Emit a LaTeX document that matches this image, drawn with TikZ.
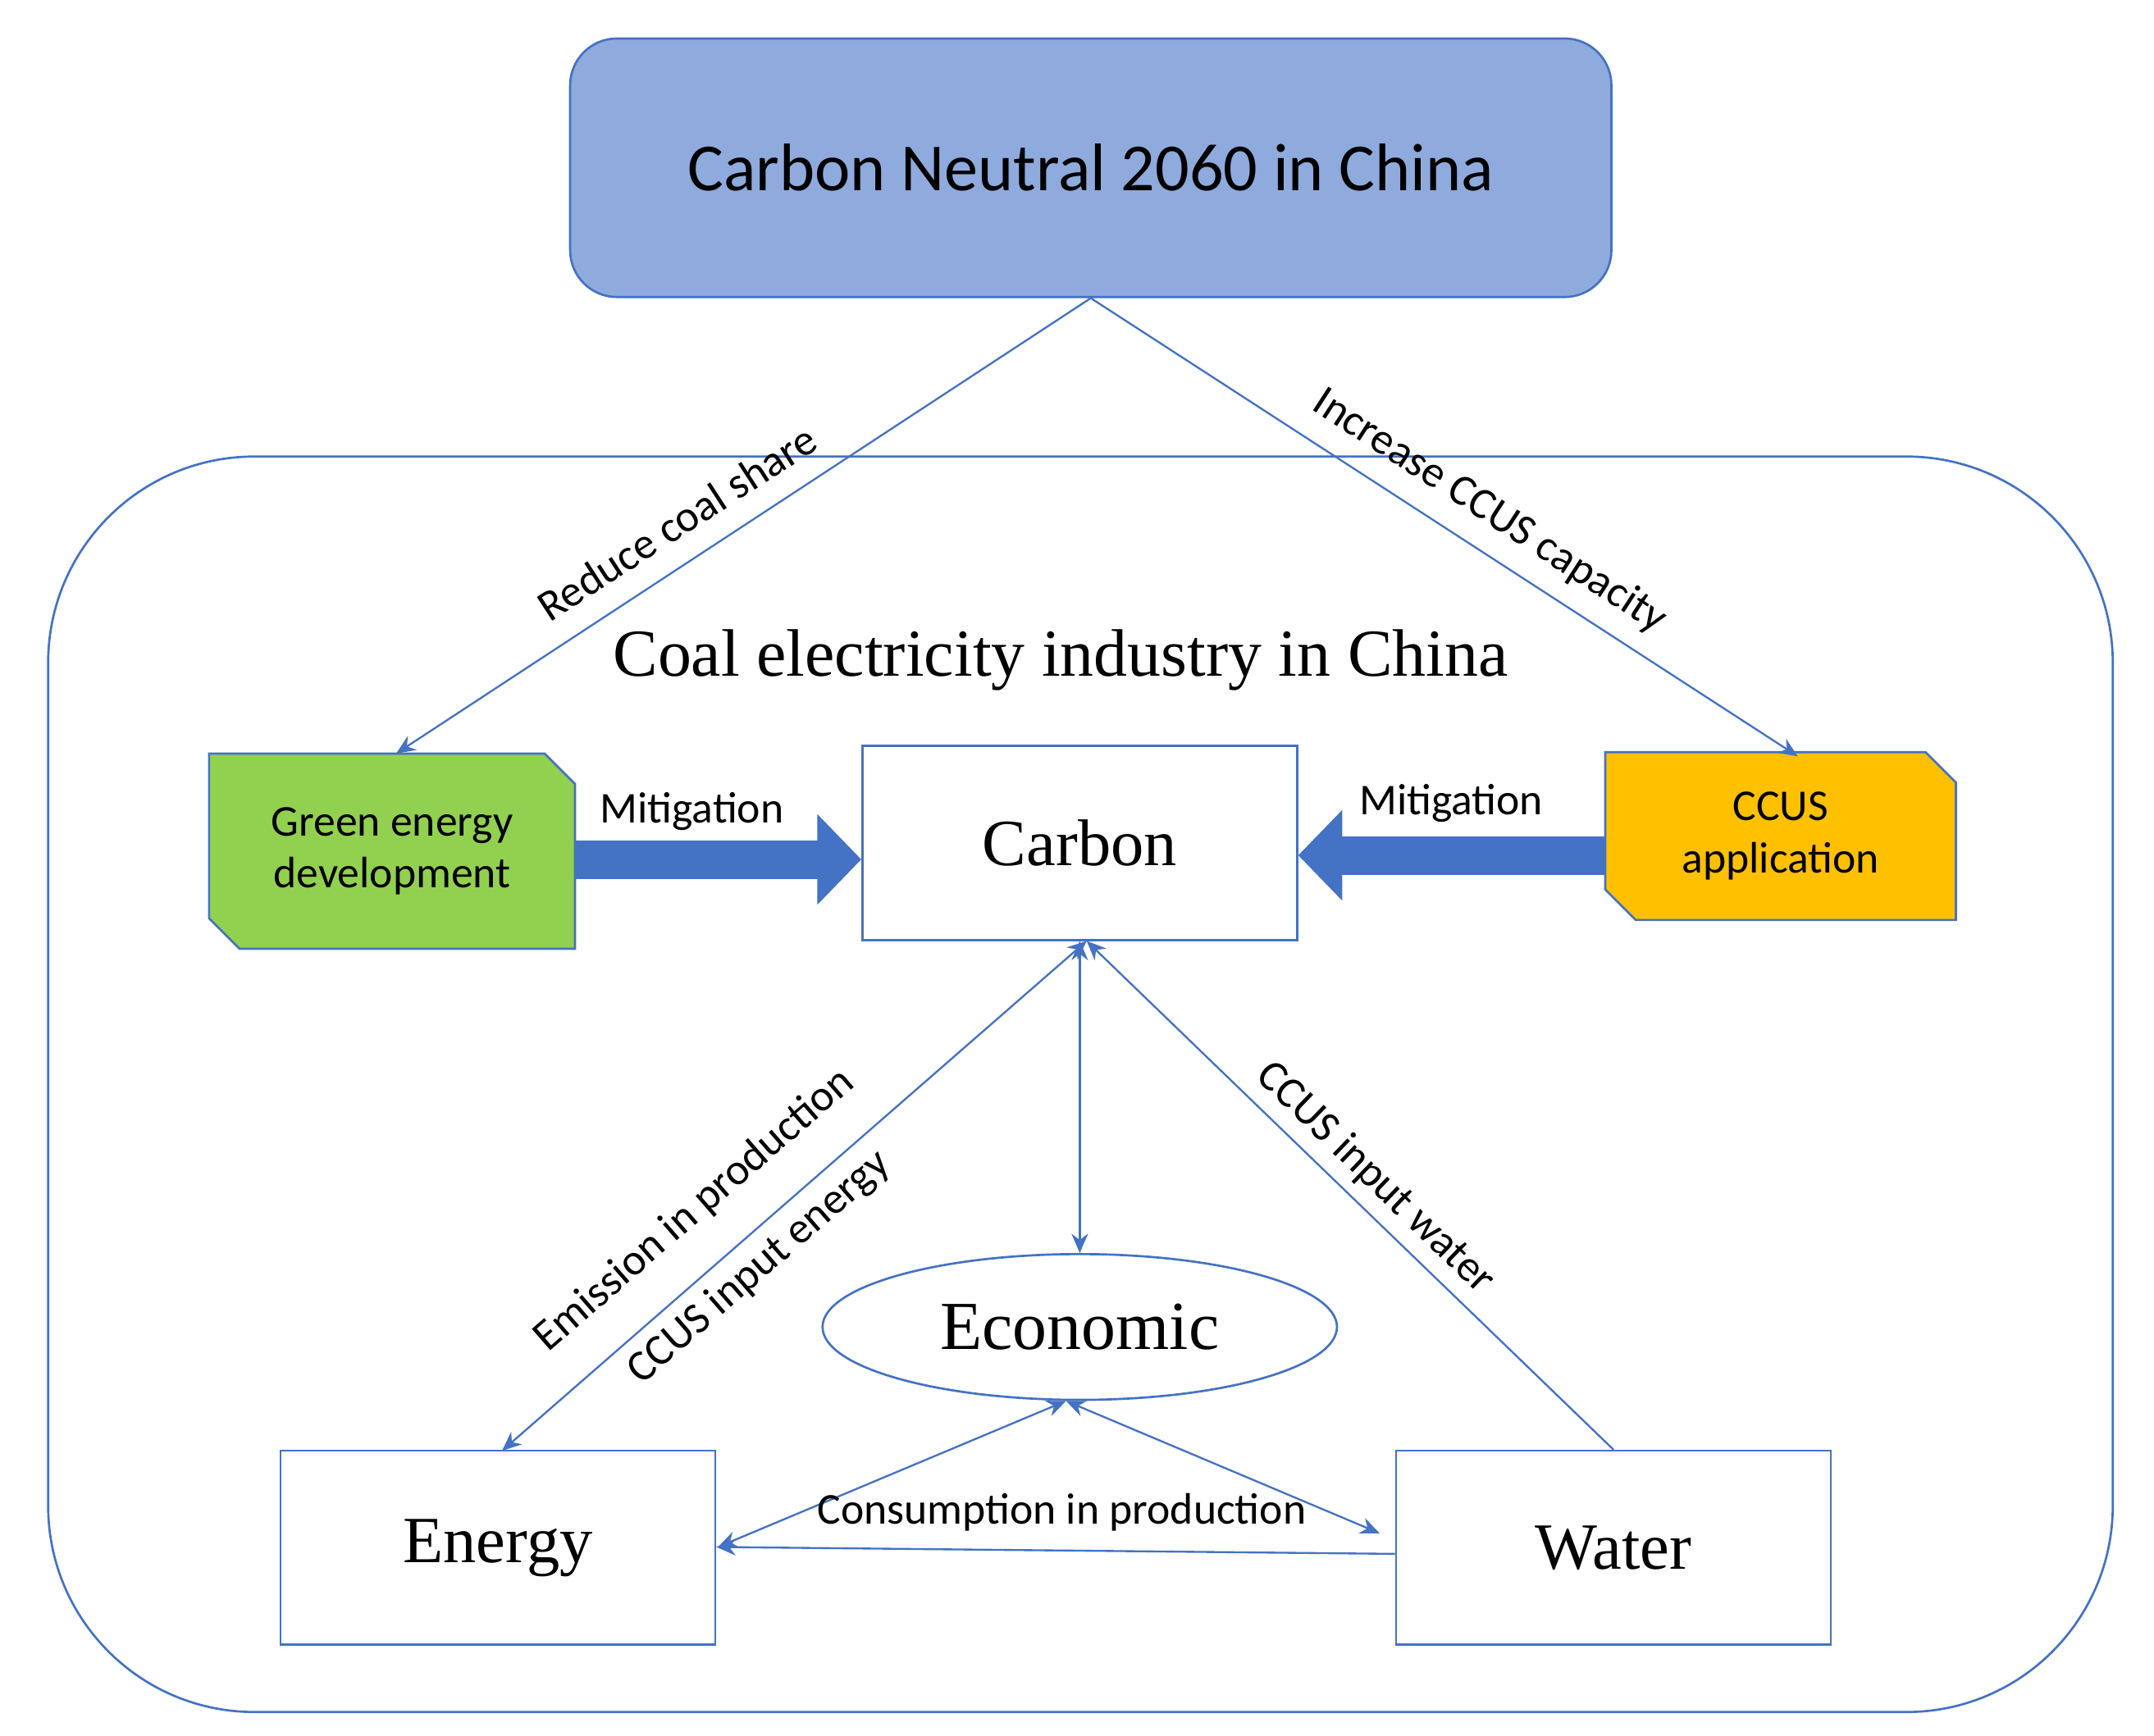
\documentclass[tikz,border=0pt]{standalone}
\usepackage{fontspec}
\setmainfont{Liberation Serif}
\newfontfamily\calfont{Carlito}
\usetikzlibrary{arrows.meta,shapes.misc,shapes.geometric}
\definecolor{bl}{HTML}{4472C4}
\definecolor{lbl}{HTML}{8FAADC}
\definecolor{grn}{HTML}{92D050}
\definecolor{org}{HTML}{FFC000}
\begin{document}
\begin{tikzpicture}[x=0.5pt,y=-0.5pt,
  box/.style={draw=bl,line width=0.8pt,fill=white,minimum width=158pt,minimum height=70.5pt,font=\fontsize{24}{28}\selectfont},
  cut/.style={chamfered rectangle,chamfered rectangle corners={north east,south west},chamfered rectangle xsep=8pt,draw=bl,line width=0.8pt,font=\calfont\fontsize{16}{19}\selectfont,align=center,inner sep=0pt},
  ln/.style={draw=bl,line width=0.7pt},
  tip/.style={-{Stealth[length=7pt,width=6pt]}},
  lab/.style={font=\calfont\fontsize{16}{19}\selectfont},
  fat/.style={draw=bl,line width=14pt,-{Triangle[width=32pt,length=16pt]}}]
\useasboundingbox (0,0) rectangle (1566,1262);
\draw[draw=bl,line width=0.8pt,rounded corners=75pt] (35,332) rectangle (1536,1245);
\node[draw=bl,line width=0.8pt,fill=lbl,rounded corners=17pt,minimum width=378.5pt,minimum height=94pt,font=\calfont\fontsize{24.5}{28}\selectfont] (top) at (793,122) {Carbon Neutral 2060 in China};
\node[font=\fontsize{24.4}{28}\selectfont] (coal) at (771,480) {Coal electricity industry in China};
\node[box] (carbon) at (785,613) {Carbon};
\node[cut,fill=grn,minimum width=133pt,minimum height=71pt] (green) at (285,619) {Green energy\\development};
\node[cut,fill=org,minimum width=127.5pt,minimum height=61pt] (ccus) at (1294.5,608) {CCUS\\application};
\node[ellipse,draw=bl,line width=0.8pt,minimum width=187pt,minimum height=53pt,inner sep=0pt,font=\fontsize{25}{28}\selectfont] (eco) at (785,965) {Economic};
\node[box] (energy) at (362,1125.5) {Energy};
\node[box] (water) at (1173,1125.5) {Water};
\draw[fat] (green.east|-0,625) -- (carbon.west|-0,625);
\draw[fat] (ccus.west|-0,622) -- (carbon.east|-0,622);
\node[lab] (m1) at (503,590) {Mitigation};
\node[lab] (m2) at (1055,584) {Mitigation};
\draw[ln,tip] (top.south) -- (288,548);
\draw[ln,tip] (top.south) -- (1307,550);
\node[lab,rotate=33] (l1) at (492,380) {Reduce coal share};
\node[lab,rotate=-33] (l2) at (1083,372) {Increase CCUS capacity};
\draw[ln,{Stealth[length=7pt,width=6pt]}-{Stealth[length=7pt,width=6pt]}] (carbon.south) -- (eco.north);
\draw[ln,{Stealth[length=7pt,width=6pt]}-{Stealth[length=7pt,width=6pt]}] ([xshift=2.5pt]carbon.south) -- (365,1055);
\draw[ln,tip] (water.north) -- ([xshift=2.5pt]carbon.south);
\node[lab,rotate=41] (l3) at (505,880) {Emission in production};
\node[lab,rotate=41] (l4) at (552,922) {CCUS input energy};
\node[lab,rotate=-44] (l5) at (1000,857) {CCUS input water};
\draw[ln,{Stealth[length=7pt,width=6pt]}-{Stealth[length=7pt,width=6pt]}] ([xshift=-5pt]eco.south) -- (522,1125);
\draw[ln,{Stealth[length=7pt,width=6pt]}-{Stealth[length=7pt,width=6pt]}] ([xshift=-5pt]eco.south) -- (1003,1115);
\draw[ln,tip] (water.west|-0,1130) -- (energy.east|-0,1125);
\node[lab] (l6) at (772,1100) {Consumption in production};
\end{tikzpicture}
\end{document}
